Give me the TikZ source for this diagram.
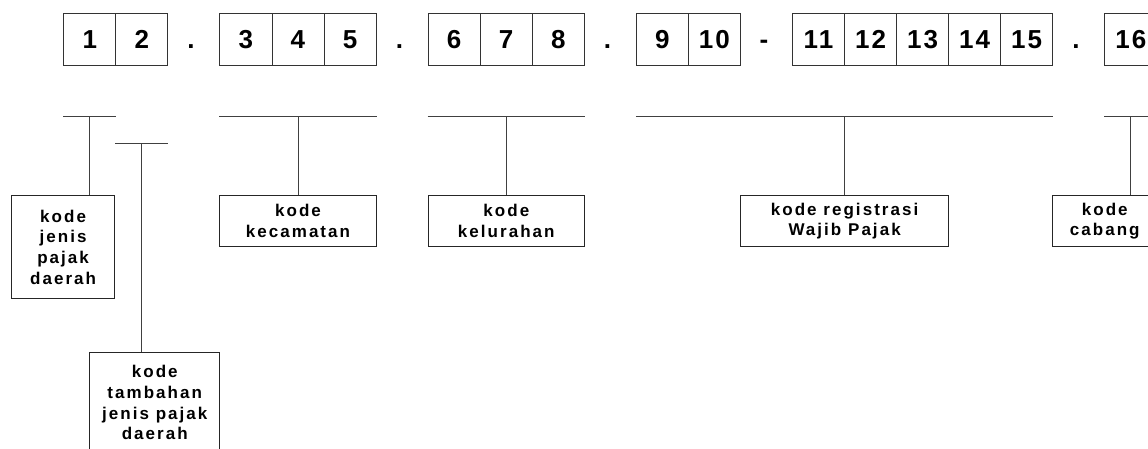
\documentclass[tikz,border=0pt]{standalone}
\usepackage{fontspec}
\setmainfont{Liberation Sans}
\newfontfamily\digitfont{Liberation Sans}[LetterSpace=8]
\newfontfamily\labelfont{Liberation Sans}[LetterSpace=12]
\usetikzlibrary{calc}
\begin{document}
\begin{tikzpicture}[x=1pt,y=-1pt,
  cell/.style={draw=black!80, line width=0.9pt, minimum width=52.05pt,
    minimum height=52pt, inner sep=0pt, anchor=north west,
    font=\digitfont\bfseries\fontsize{26}{30}\selectfont},
  sepmark/.style={inner sep=0pt, anchor=base,
    font=\digitfont\bfseries\fontsize{26}{30}\selectfont},
  bar/.style={draw=black!75, line width=0.9pt},
  lbl/.style={draw=black!85, line width=0.9pt, inner sep=0pt, align=center,
    anchor=north west, font=\labelfont\bfseries\fontsize{17}{20.7}\selectfont}]
  \useasboundingbox (0,0) rectangle (1148,448);
  \clip (0,0) rectangle (1148,448);

  % digit cells of the number
  \foreach \k/\t in {0/1,1/2,3/3,4/4,5/5,7/6,8/7,9/8,11/9,12/10,
                     14/11,15/12,16/13,17/14,18/15,20/16}
    \node[cell] (n\t) at ({63.3+52.05*\k},13) {\t};

  % separators
  \node[sepmark] (s1) at (191,48.3) {.};
  \node[sepmark] (s2) at (399.5,48.3) {.};
  \node[sepmark] (s3) at (607.5,48.3) {.};
  \node[sepmark] (s4) at (764,48.3) {-};
  \node[sepmark] (s5) at (1076,48.3) {.};

  % description boxes
  \node[lbl, minimum width=103.3pt, minimum height=103pt] (ljenis) at (11,195.3)
    {kode\\jenis\\pajak\\daerah};
  \node[lbl, minimum width=130pt, minimum height=101.3pt] (ltambah) at (89.3,351.7)
    {kode\\tambahan\\jenis pajak\\daerah};
  \node[lbl, minimum width=156.3pt, minimum height=50.7pt] (lkec) at (219.4,195.3)
    {kode\\kecamatan};
  \node[lbl, minimum width=156.3pt, minimum height=50.7pt] (lkel) at (427.7,195.3)
    {kode\\kelurahan};
  \node[lbl, minimum width=208.3pt, minimum height=50.7pt] (lreg) at (740,195.3)
    {kode registrasi\\Wajib Pajak};
  \node[lbl, minimum width=104pt, minimum height=50.7pt] (lcab) at (1052.3,195.3)
    {kode\\cabang};

  % brackets under the digit groups
  \draw[bar] (n1.south west |- 0,116) -- (n1.south east |- 0,116);
  \draw[bar] (n2.south west |- 0,143) -- (n2.south east |- 0,143);
  \draw[bar] (n3.south west |- 0,116) -- (n5.south east |- 0,116);
  \draw[bar] (n6.south west |- 0,116) -- (n8.south east |- 0,116);
  \draw[bar] (n9.south west |- 0,116) -- (n15.south east |- 0,116);
  \draw[bar] (n16.south west |- 0,116) -- (n16.south east |- 0,116);

  \coordinate (j1) at (n1.south |- 0,116);
  \coordinate (j2) at (n2.south |- 0,143);
  \coordinate (j3) at (n4.south |- 0,116);
  \coordinate (j4) at (n7.south |- 0,116);
  \coordinate (j5) at ($(n9.south west)!0.5!(n15.south east)$);
  \coordinate (j6) at (n16.south |- 0,116);

  % connectors from brackets to descriptions
  \draw[bar] (j1) -- (j1 |- ljenis.north);
  \draw[bar] (j2) -- (j2 |- ltambah.north);
  \draw[bar] (j3) -- (j3 |- lkec.north);
  \draw[bar] (j4) -- (j4 |- lkel.north);
  \draw[bar] (j5 |- 0,116) -- (j5 |- lreg.north);
  \draw[bar] (j6) -- (j6 |- lcab.north);
\end{tikzpicture}
\end{document}
